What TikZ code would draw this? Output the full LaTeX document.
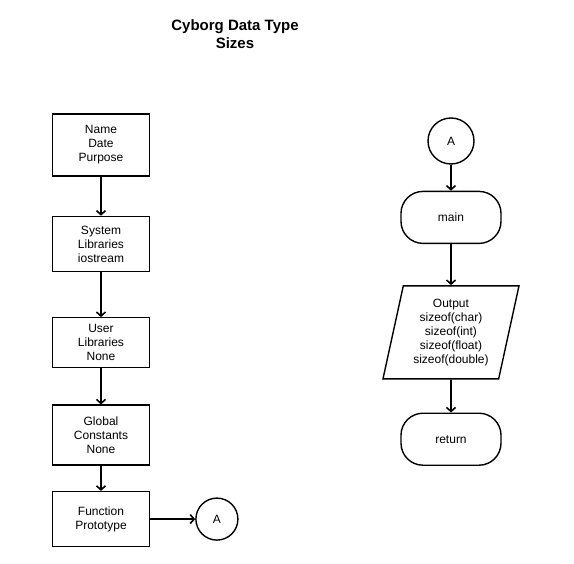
\documentclass[tikz,border=0pt]{standalone}
\usepackage{fontspec}
\setmainfont{Liberation Sans}
\usetikzlibrary{arrows.meta, positioning, shapes.geometric}

\begin{document}
\begin{tikzpicture}[
                x=1pt, y=-1pt,
                font=\fontsize{12}{14}\selectfont,
                box/.style={draw, line width=1.4pt, minimum width=97pt, inner sep=3pt, align=center},
                term/.style={draw, line width=1.4pt, rounded corners=22pt, minimum width=100pt, minimum height=52pt, align=center},
                io/.style={draw, line width=1.4pt, trapezium, trapezium left angle=74, trapezium right angle=106,
                    trapezium stretches body, minimum width=136pt, minimum height=93pt, inner sep=2pt, align=center},
                conn/.style={draw, line width=1.4pt, circle, inner sep=0pt},
                flow/.style={-{Straight Barb[length=4pt, width=9pt]}, line width=1.6pt},
            ]
                \useasboundingbox (0,0) rectangle (574,564);

                % Title
                \node[font=\bfseries\fontsize{15}{18}\selectfont, align=center] (title) at (235,34) {Cyborg Data Type\\Sizes};

                % Left column
                \node[box, minimum height=62pt] (name) at (101,145) {Name\\Date\\Purpose};
                \node[box, minimum height=55pt, below=39pt of name] (syslib) {System\\Libraries\\iostream};
                \node[box, minimum height=50pt, below=45pt of syslib] (userlib) {User\\Libraries\\None};
                \node[box, minimum height=60pt, below=36pt of userlib] (global) {Global\\Constants\\None};
                \node[box, minimum height=55pt, below=25pt of global] (proto) {Function\\Prototype};
                \node[conn, minimum size=42pt, right=45pt of proto] (offA) {A};

                % Right column
                \node[conn, minimum size=46pt] (onA) at (451,141) {A};
                \node[term, below=26pt of onA] (main) {main};
                \node[io, below=41pt of main] (output) {Output\\sizeof(char)\\sizeof(int)\\sizeof(float)\\sizeof(double)};
                \node[term, below=33pt of output] (ret) {return};

                % Connectors
                \draw[flow] (name) -- (syslib);
                \draw[flow] (syslib) -- (userlib);
                \draw[flow] (userlib) -- (global);
                \draw[flow] (global) -- (proto);
                \draw[flow] (proto) -- (offA);
                \draw[flow] (onA) -- (main);
                \draw[flow] (main) -- (output);
                \draw[flow] (output) -- (ret);
            \end{tikzpicture}
\end{document}
